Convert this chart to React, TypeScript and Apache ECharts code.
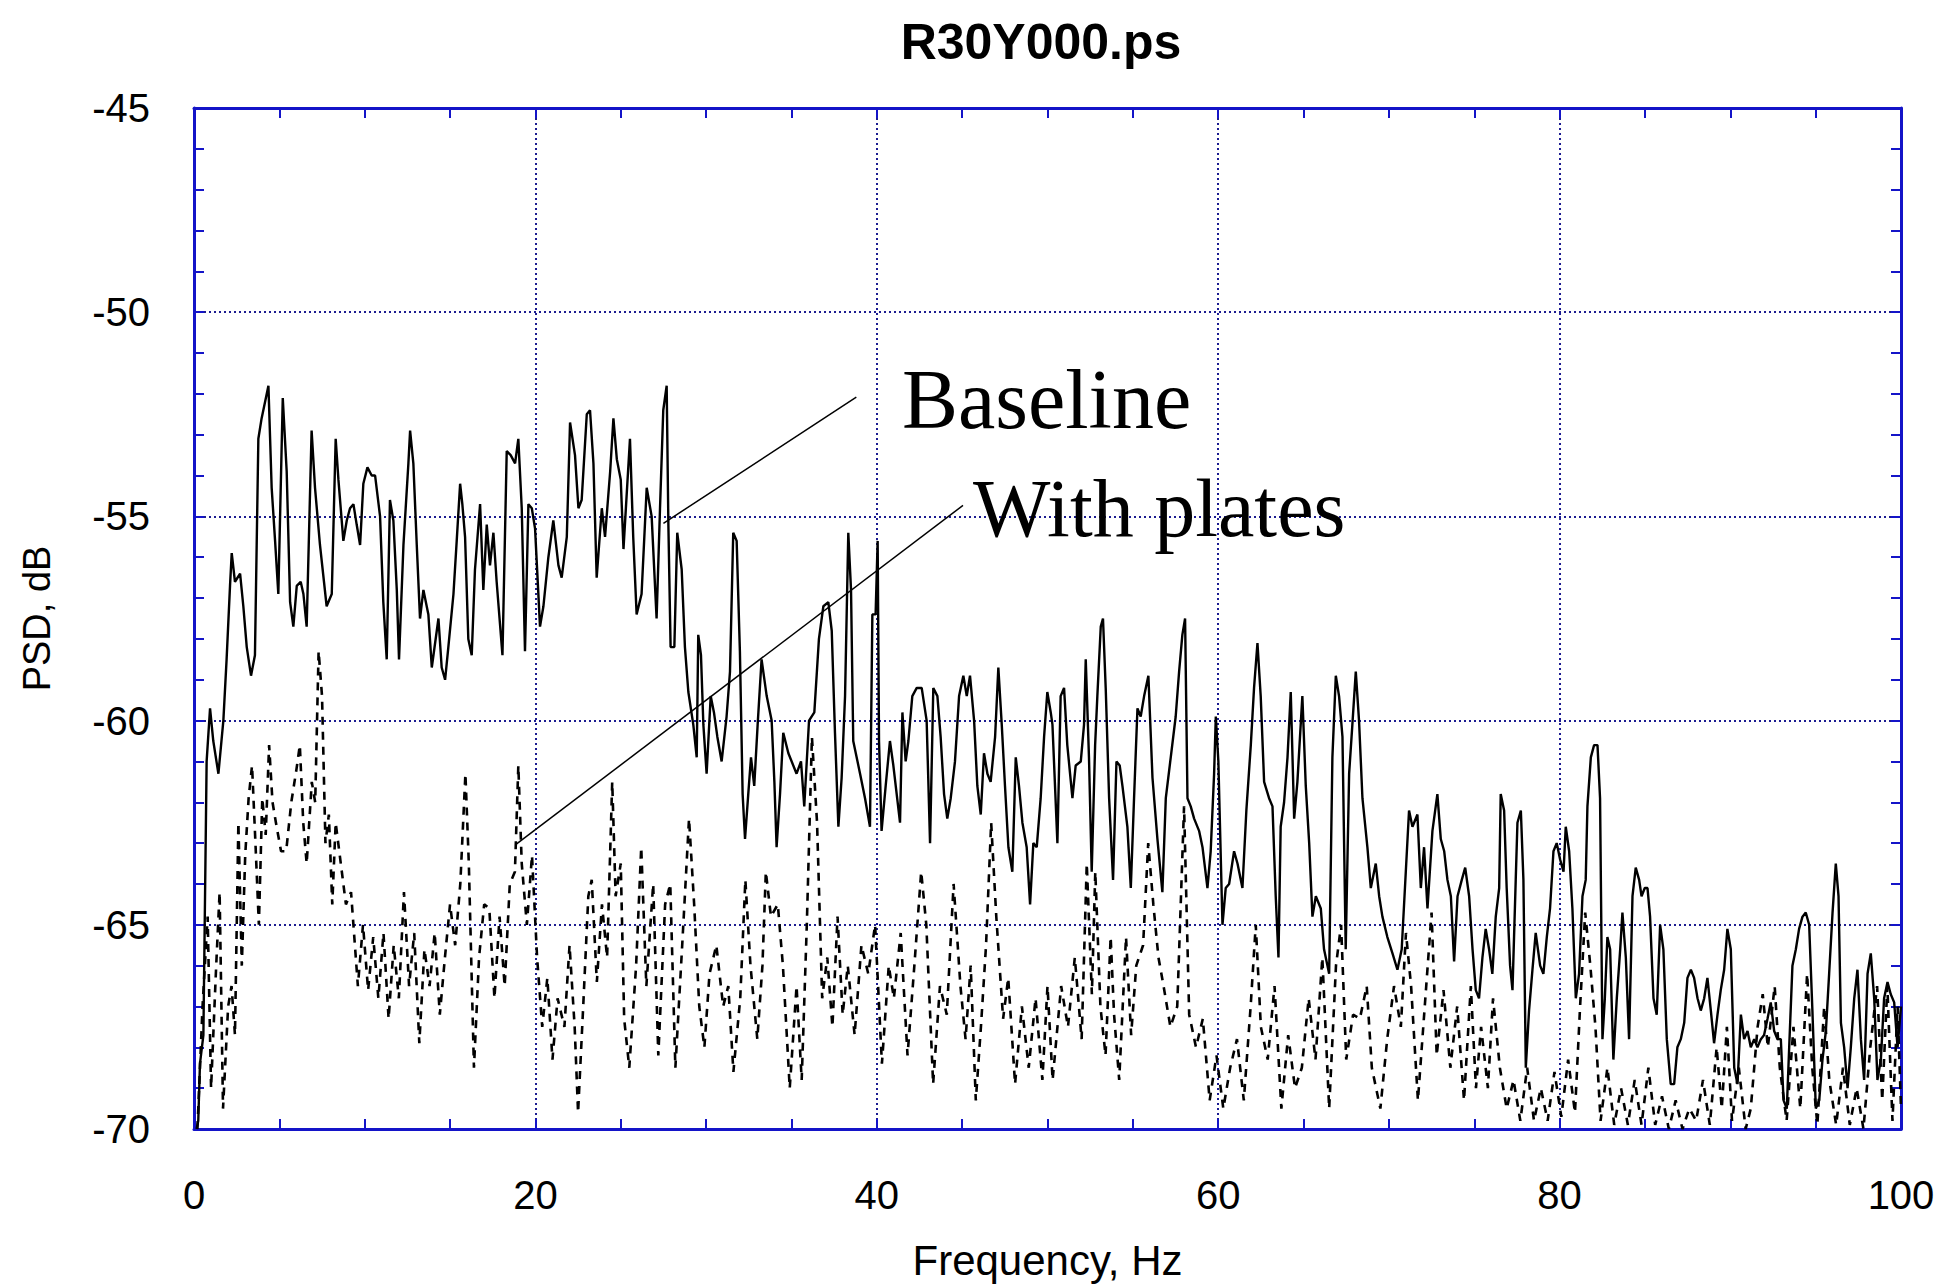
import React, { useEffect, useRef } from "react";
import * as echarts from "echarts";

const chartTitle = "R30Y000.ps";
const xAxisName = "Frequency, Hz";
const yAxisName = "PSD, dB";
const xMin = 0;
const xMax = 100;
const xStep = 20;
const yMin = -70;
const yMax = -45;
const yStep = 5;

// Baseline (solid) — [frequency Hz, PSD dB]
const baselineA: [number, number][] = [
  [0.15, -70], [0.25, -69.8], [0.35, -68.4], [0.55, -67.7], [0.74, -61.0], [0.94, -59.7], [1.13, -60.5], [1.43, -61.3],
  [1.72, -60.0], [1.91, -58.5], [2.11, -56.7], [2.21, -55.9], [2.40, -56.6], [2.70, -56.4], [2.89, -57.2], [3.09, -58.2],
  [3.34, -58.9], [3.57, -58.4], [3.77, -53.1], [3.96, -52.6], [4.36, -51.8], [4.55, -54.3], [4.75, -55.6], [4.94, -56.9],
  [5.20, -52.1], [5.43, -53.9], [5.63, -57.1], [5.82, -57.7], [6.02, -56.7], [6.25, -56.6], [6.41, -56.9], [6.60, -57.7],
  [6.89, -52.9], [7.09, -54.3], [7.38, -55.7], [7.77, -57.2], [8.07, -56.9], [8.30, -53.1], [8.46, -54.1], [8.75, -55.6],
  [8.95, -55.1], [9.14, -54.8], [9.34, -54.7], [9.53, -55.2], [9.73, -55.7], [9.92, -54.2], [10.16, -53.8], [10.41, -54.0],
  [10.61, -54.0], [10.90, -55.0], [11.09, -57.1], [11.29, -58.5], [11.48, -54.6], [11.68, -55.1], [11.88, -56.8], [12.01, -58.5],
  [12.27, -55.7], [12.56, -53.7], [12.66, -52.9], [12.85, -53.7], [13.05, -55.7], [13.24, -57.5], [13.44, -56.8], [13.73, -57.4],
  [13.93, -58.7], [14.32, -57.5], [14.51, -58.7], [14.71, -59.0], [14.90, -58.2], [15.20, -56.9], [15.39, -55.6], [15.59, -54.2],
  [15.72, -54.7], [15.88, -55.5], [16.07, -58.0], [16.27, -58.4], [16.46, -56.3], [16.76, -54.7], [16.95, -56.8], [17.15, -55.2],
  [17.34, -56.2], [17.54, -55.4], [17.73, -56.6], [18.07, -58.4], [18.32, -53.4], [18.55, -53.5], [18.81, -53.7], [19.00, -53.1],
  [19.20, -54.8], [19.39, -58.3], [19.59, -54.7], [19.79, -54.8], [19.98, -55.3], [20.27, -57.7], [20.47, -57.2], [20.76, -56.0],
  [21.05, -55.1], [21.35, -56.2], [21.54, -56.5], [21.84, -55.5], [22.03, -52.7], [22.32, -53.5], [22.52, -54.8], [22.71, -54.6],
  [23.01, -52.5], [23.20, -52.4], [23.40, -53.7], [23.59, -56.5], [23.89, -54.8], [24.08, -55.5], [24.38, -53.9], [24.57, -52.6],
  [24.77, -53.6], [25.00, -54.1], [25.16, -55.8],
];
const baselineB: [number, number][] = [
  [25.54, -53.1], [25.73, -55.5], [25.93, -57.4], [26.22, -56.9], [26.52, -54.3], [26.81, -55.0], [27.10, -57.5], [27.30, -54.8],
  [27.49, -52.4], [27.69, -51.8], [27.79, -55.2], [27.92, -58.2], [28.14, -58.2], [28.31, -55.4], [28.57, -56.3], [28.76, -58.2],
  [28.96, -59.3], [29.25, -60.1], [29.45, -60.9], [29.54, -57.9], [29.70, -58.4], [29.84, -60.1], [30.03, -61.3], [30.27, -59.4],
  [30.46, -59.8], [30.66, -60.4], [30.91, -61.0], [31.20, -59.9], [31.40, -58.8], [31.59, -55.4], [31.79, -55.6], [31.98, -58.3],
  [32.14, -61.8], [32.28, -62.9], [32.47, -61.8], [32.63, -60.9], [32.82, -61.6], [33.02, -60.1], [33.25, -58.5], [33.55, -59.4],
  [33.84, -60.0], [34.00, -61.5], [34.13, -63.1], [34.33, -61.8], [34.52, -60.3], [34.82, -60.8], [35.30, -61.3], [35.56, -61.0],
  [35.75, -62.1], [36.03, -60.0], [36.34, -59.8], [36.61, -58.0], [36.87, -57.2], [37.16, -57.1], [37.36, -57.8], [37.55, -60.3],
  [37.75, -62.6], [37.94, -61.4], [38.14, -59.4], [38.33, -55.4], [38.49, -56.8], [38.62, -60.5], [39.02, -61.3], [39.31, -61.9],
  [39.60, -62.6], [39.74, -57.4], [39.93, -57.4], [40.05, -55.6], [40.13, -60.5], [40.28, -62.7], [40.52, -61.6], [40.77, -60.5],
  [40.97, -61.1], [41.36, -62.5], [41.50, -59.8], [41.69, -61.0], [41.85, -60.5], [42.08, -59.4], [42.34, -59.2], [42.63, -59.2],
  [42.92, -60.0], [43.12, -63.0], [43.31, -59.2], [43.55, -59.4], [43.74, -60.4], [43.94, -61.8], [44.13, -62.4], [44.33, -61.9],
  [44.58, -61.0], [44.82, -59.4], [45.07, -58.9], [45.27, -59.4], [45.46, -58.9], [45.70, -60.0], [45.89, -61.6], [46.09, -62.3],
  [46.28, -60.8], [46.48, -61.3], [46.67, -61.5], [46.93, -60.4], [47.12, -58.7], [47.32, -60.1], [47.51, -61.6], [47.71, -63.1],
  [47.94, -63.7], [48.14, -60.9], [48.33, -61.6], [48.53, -62.5], [48.78, -63.1], [48.98, -64.5], [49.17, -63.0], [49.37, -63.1],
  [49.60, -61.9], [49.80, -60.4], [49.99, -59.3], [50.19, -59.8],
];
const baselineC: [number, number][] = [
  [50.29, -60.1], [50.58, -63.0], [50.77, -59.4], [50.97, -59.2], [51.16, -60.6], [51.46, -61.9], [51.65, -61.1], [51.95, -61.0],
  [52.14, -60.1], [52.24, -58.5], [52.43, -60.9], [52.59, -63.7], [52.79, -60.6], [52.92, -59.4], [53.12, -57.7], [53.25, -57.5],
  [53.41, -59.2], [53.61, -61.9], [53.84, -63.9], [54.04, -61.0], [54.23, -61.1], [54.39, -61.6], [54.68, -62.6], [54.88, -64.1],
  [55.07, -61.9], [55.27, -59.7], [55.46, -59.9], [55.66, -59.4], [55.91, -58.9], [56.15, -61.4], [56.44, -62.9], [56.73, -64.2],
  [56.93, -61.9], [57.22, -60.9], [57.51, -59.9], [57.71, -58.8], [57.90, -57.9], [58.06, -57.5], [58.20, -61.9], [58.39, -62.1],
  [58.59, -62.4], [58.88, -62.7], [59.08, -63.1], [59.37, -64.1], [59.56, -63.2], [59.76, -61.3], [59.86, -59.9], [60.01, -61.0],
  [60.25, -65.0], [60.44, -64.1], [60.64, -64.0], [60.93, -63.2], [61.13, -63.5], [61.42, -64.1], [61.65, -62.2], [61.91, -60.6],
  [62.10, -59.2], [62.30, -58.1], [62.49, -59.4], [62.69, -61.5], [62.98, -61.9], [63.18, -62.1], [63.37, -64.3], [63.53, -65.8],
  [63.66, -62.6], [63.86, -62.0], [64.06, -60.9], [64.25, -59.3], [64.45, -62.4], [64.64, -61.5], [64.93, -59.4], [65.13, -61.6],
  [65.33, -63.0], [65.52, -64.8], [65.72, -64.3], [66.01, -64.6], [66.20, -65.6], [66.50, -66.2], [66.69, -60.9], [66.89, -58.9],
  [67.08, -59.4], [67.28, -60.4], [67.47, -65.6], [67.67, -61.3], [67.86, -60.1], [68.06, -58.8], [68.25, -60.0], [68.45, -61.9],
  [68.74, -63.1], [68.94, -64.1], [69.23, -63.5], [69.43, -64.3], [69.62, -64.8], [69.91, -65.3], [70.21, -65.7], [70.50, -66.1],
  [70.75, -65.6], [70.99, -63.7], [71.18, -62.2], [71.38, -62.6], [71.67, -62.3], [71.87, -64.1], [72.06, -63.1], [72.26, -64.6],
  [72.55, -62.7], [72.84, -61.8], [73.04, -62.9], [73.24, -63.2], [73.43, -63.9], [73.63, -64.3], [73.82, -65.9], [74.02, -64.3],
  [74.27, -63.9], [74.47, -63.6], [74.70, -64.3], [74.90, -65.6], [75.09, -66.6],
];
const baselineD: [number, number][] = [
  [75.28, -66.8], [75.48, -65.8], [75.67, -65.1], [75.87, -65.6], [76.06, -66.2], [76.26, -64.8], [76.46, -64.1], [76.55, -61.8],
  [76.75, -62.2], [76.90, -64.1], [77.10, -66.0], [77.24, -66.6], [77.43, -63.9], [77.53, -62.5], [77.73, -62.2], [77.88, -63.9],
  [78.02, -68.5], [78.21, -67.1], [78.41, -66.1], [78.60, -65.2], [78.86, -66.0], [79.05, -66.2], [79.25, -65.3], [79.44, -64.6],
  [79.64, -63.2], [79.83, -63.0], [80.03, -63.4], [80.23, -63.7], [80.36, -62.6], [80.56, -63.2], [80.75, -64.6], [80.95, -66.8],
  [81.14, -66.2], [81.34, -64.3], [81.53, -63.9], [81.63, -62.1], [81.83, -60.9], [82.02, -60.6], [82.22, -60.6], [82.37, -61.9],
  [82.51, -67.8], [82.65, -66.8], [82.80, -65.3], [82.96, -65.6], [83.15, -68.3], [83.35, -66.8], [83.55, -65.6], [83.68, -64.7],
  [83.88, -65.8], [84.07, -67.8], [84.27, -64.3], [84.46, -63.6], [84.66, -63.9], [84.80, -64.3], [84.99, -64.1], [85.15, -64.1],
  [85.30, -64.8], [85.50, -66.8], [85.69, -67.2], [85.89, -65.0], [86.08, -65.6], [86.28, -67.8], [86.51, -68.9], [86.71, -68.9],
  [86.90, -68.0], [87.10, -67.8], [87.30, -67.4], [87.49, -66.3], [87.69, -66.1], [87.88, -66.3], [88.08, -66.8], [88.27, -67.1],
  [88.47, -66.8], [88.66, -66.3], [88.86, -67.1], [89.05, -67.9], [89.25, -67.2], [89.44, -66.6], [89.64, -66.1], [89.83, -65.1],
  [90.03, -65.6], [90.23, -68.5], [90.42, -68.9], [90.62, -67.2], [90.81, -67.8], [91.01, -67.6], [91.20, -68.0], [91.40, -67.8],
  [91.59, -68.0], [91.79, -67.8], [91.98, -67.7], [92.18, -67.3], [92.37, -66.9], [92.57, -67.6], [92.76, -67.8], [92.96, -67.8],
  [93.12, -69.3], [93.31, -69.5], [93.45, -68.0], [93.64, -66.0], [93.84, -65.6], [94.03, -65.1], [94.23, -64.8], [94.42, -64.7],
  [94.62, -65.0], [94.81, -67.1], [95.01, -69.5], [95.21, -69.3], [95.40, -68.3], [95.60, -67.6], [95.79, -66.2], [95.99, -64.7],
  [96.18, -63.5], [96.34, -64.3], [96.48, -67.4], [96.67, -68.0], [96.87, -69.0], [97.06, -68.0], [97.26, -66.8], [97.45, -66.1],
  [97.65, -67.8], [97.84, -68.8], [98.04, -66.2], [98.23, -65.7], [98.43, -66.8], [98.62, -68.8], [98.82, -68.3], [99.01, -66.8],
  [99.21, -66.4], [99.40, -66.7], [99.60, -66.9], [99.80, -68.0], [100.0, -67.0],
];

// With plates (dashed) — [frequency Hz, PSD dB]
const platesA: [number, number][] = [
  [0.2, -70], [0.5, -67], [0.8, -64.8], [1.0, -69], [1.3, -66], [1.5, -64.2], [1.7, -69.5], [2.0, -67], [2.2, -66.5],
  [2.4, -67.7], [2.6, -62.5], [2.8, -66], [3.0, -63.3], [3.2, -61.9], [3.4, -61.1], [3.6, -63], [3.8, -65], [4.0, -61.9],
  [4.2, -62.8], [4.4, -60.6], [4.6, -62], [4.8, -62.5], [5.1, -63.2], [5.4, -63.2], [5.7, -62], [6.0, -61.2], [6.2, -60.6],
  [6.4, -62.5], [6.6, -63.5], [6.9, -61.5], [7.1, -62], [7.3, -58.3], [7.5, -59.4], [7.7, -63], [7.9, -62.3], [8.1, -64.5],
  [8.3, -62.5], [8.6, -63.5], [8.9, -64.5], [9.2, -64.2], [9.6, -66.5], [9.9, -65], [10.2, -66.6], [10.5, -65.3],
  [10.8, -66.8], [11.1, -65.2], [11.4, -67.3], [11.7, -65.5], [12.0, -66.8], [12.3, -64.2], [12.6, -66.5], [12.9, -65.2],
  [13.2, -67.9], [13.5, -65.6], [13.8, -66.5], [14.1, -65.2], [14.4, -67.2], [14.7, -65.8], [15.0, -64.5], [15.3, -65.5],
  [15.6, -64], [15.9, -61.3], [16.1, -63.5], [16.4, -68.5], [16.7, -65.8], [17.0, -64.5], [17.3, -64.6], [17.6, -66.8],
  [17.9, -64.8], [18.2, -66.5], [18.5, -64], [18.8, -63.7], [19.0, -61.1], [19.2, -63.5], [19.5, -65], [19.8, -63.3],
  [20.1, -65.8], [20.4, -67.5], [20.7, -66.3], [21.0, -68.3], [21.3, -66.8], [21.7, -67.5], [22.0, -65.5], [22.3, -67.5],
  [22.5, -69.6], [22.8, -67], [23.1, -64.3], [23.3, -63.9], [23.6, -66.4], [23.9, -64.5], [24.2, -65.8], [24.5, -61.5],
  [24.7, -64.3], [25.0, -63.5], [25.2, -67.3],
];
const platesB: [number, number][] = [
  [25.5, -68.5], [25.9, -66], [26.2, -63.1], [26.5, -66.5], [26.9, -64], [27.2, -68.2], [27.6, -64.5], [27.9, -64],
  [28.2, -68.5], [28.6, -65.5], [29.0, -62.4], [29.3, -64.5], [29.6, -67], [29.9, -68], [30.2, -66.2], [30.6, -65.5],
  [31.0, -67], [31.3, -66.5], [31.6, -68.6], [32.0, -66.8], [32.3, -63.9], [32.6, -66], [33.0, -67.8], [33.3, -66],
  [33.5, -63.7], [33.8, -64.8], [34.2, -64.5], [34.5, -66], [34.9, -69], [35.3, -66.5], [35.6, -68.8], [35.9, -65],
  [36.2, -60.4], [36.5, -62.5], [36.8, -66.8], [37.1, -65.8], [37.4, -67.5], [37.7, -64.8], [38.0, -67.2], [38.3, -66],
  [38.7, -67.7], [39.1, -65.5], [39.5, -66.2], [39.9, -65], [40.3, -68.4], [40.7, -66], [41.0, -66.8], [41.4, -65.2],
  [41.8, -68.2], [42.2, -66], [42.6, -63.7], [42.9, -65], [43.3, -68.9], [43.7, -66.5], [44.1, -67.2], [44.5, -64],
  [44.9, -66.5], [45.2, -67.8], [45.5, -66], [45.8, -69.3], [46.1, -67.5], [46.4, -65.5], [46.7, -62.5], [47.0, -64.8],
  [47.4, -67.3], [47.7, -66.3], [48.1, -68.9], [48.5, -67], [48.9, -68.5], [49.3, -66.8], [49.7, -68.8], [50.0, -66.5],
];
const platesC: [number, number][] = [
  [50.3, -68.8], [50.8, -66.5], [51.2, -67.5], [51.6, -65.8], [52.0, -67.8], [52.3, -63.5], [52.6, -66.7], [52.8, -63.7],
  [53.1, -67], [53.4, -68.2], [53.7, -65.3], [53.9, -67.2], [54.2, -68.8], [54.6, -65.3], [54.9, -67.7], [55.2, -66],
  [55.6, -65.5], [55.9, -63], [56.2, -64.5], [56.5, -65.8], [56.8, -66.5], [57.2, -67.5], [57.6, -67], [58.0, -62.1],
  [58.3, -67.2], [58.7, -68], [59.1, -67.3], [59.5, -69.3], [59.9, -68.2], [60.3, -69.5], [60.7, -68.5], [61.1, -67.8],
  [61.5, -69.3], [61.9, -67], [62.2, -65], [62.5, -67.5], [62.9, -68.3], [63.3, -66.5], [63.7, -69.5], [64.1, -67.7],
  [64.5, -69], [64.9, -68.5], [65.3, -66.8], [65.7, -68.3], [66.1, -65.8], [66.5, -69.5], [66.9, -66], [67.2, -65],
  [67.5, -68.3], [67.9, -67.2], [68.3, -67.3], [68.7, -66.5], [69.0, -68.5], [69.5, -69.5], [69.9, -67.8], [70.3, -66.5],
  [70.7, -67.5], [71.0, -65.2], [71.3, -66.5], [71.7, -69.3], [72.1, -67], [72.5, -64.7], [72.8, -68.2], [73.2, -66.6],
  [73.6, -68.5], [74.0, -67], [74.4, -69.3], [74.8, -66.5], [75.1, -69],
];
const platesD: [number, number][] = [
  [75.4, -67.5], [75.8, -69], [76.1, -66.8], [76.5, -68.5], [76.9, -69.5], [77.3, -68.8], [77.7, -69.8], [78.1, -68.5],
  [78.5, -69.8], [78.9, -69], [79.3, -69.8], [79.7, -68.6], [80.1, -69.7], [80.5, -68.3], [80.9, -69.6], [81.2, -67],
  [81.5, -64.7], [81.8, -66], [82.1, -67.5], [82.4, -69.8], [82.8, -68.5], [83.2, -69.9], [83.6, -69], [84.0, -69.9],
  [84.4, -68.8], [84.8, -69.9], [85.2, -68.5], [85.6, -69.9], [86.0, -69.2], [86.4, -70], [86.8, -69.3], [87.2, -70],
  [87.6, -69.5], [88.0, -69.8], [88.4, -68.8], [88.8, -69.9], [89.2, -68], [89.5, -69.5], [89.8, -67.5], [90.1, -69.8],
  [90.5, -68.5], [90.9, -70], [91.2, -69.5], [91.6, -67.5], [91.9, -66.7], [92.2, -68], [92.6, -66.5], [92.9, -68.5],
  [93.3, -69.8], [93.7, -67.5], [94.1, -69.5], [94.5, -66.2], [94.8, -68.5], [95.1, -69.9], [95.5, -67], [95.8, -68.8],
  [96.2, -69.9], [96.6, -68.5], [97.0, -69.9], [97.4, -69], [97.8, -70], [98.2, -68], [98.6, -66.5], [98.9, -69.3],
  [99.2, -66.5], [99.5, -69.8], [99.8, -67], [100.0, -69.5],
];

// Annotation leader lines in data coordinates: [[x1, y1], [x2, y2]]
const leaderBaseline: [number, number][] = [[27.5, -55.17], [38.8, -52.08]];
const leaderPlates: [number, number][] = [[18.9, -63.02], [45.05, -54.73]];
const annotationTexts = ["Baseline", "With plates"];

const BLUE = "#1414c8";
const GRID_BLUE = "#1c1c90";
const SANS = "'Liberation Sans', Arial, Helvetica, sans-serif";
const SERIF = "'Liberation Serif', 'Times New Roman', serif";

export default function App() {
  const ref = useRef<HTMLDivElement>(null);

  useEffect(() => {
    document.body.style.margin = "0";
    if (!ref.current) return;
    const chart = echarts.init(ref.current, undefined, { renderer: "svg" });

    const baseline = [...baselineA, ...baselineB, ...baselineC, ...baselineD];
    const plates = [...platesA, ...platesB, ...platesC, ...platesD];

    const tickStyle = { color: BLUE, width: 2 };

    const xCommon = {
      type: "value" as const,
      min: xMin,
      max: xMax,
      interval: xStep,
      axisLine: { show: true, onZero: false, lineStyle: { color: BLUE, width: 3 } },
      axisTick: { show: true, inside: true, length: 10, lineStyle: tickStyle },
      minorTick: { show: true, splitNumber: 4, length: 10, lineStyle: tickStyle },
    };
    const yCommon = {
      type: "value" as const,
      min: yMin,
      max: yMax,
      interval: yStep,
      axisLine: { show: true, onZero: false, lineStyle: { color: BLUE, width: 3 } },
      axisTick: { show: true, inside: true, length: 10, lineStyle: tickStyle },
      minorTick: { show: true, splitNumber: 5, length: 10, lineStyle: tickStyle },
    };

    chart.setOption({
      animation: false,
      backgroundColor: "#ffffff",
      title: {
        text: chartTitle,
        left: 1036,
        top: 12,
        textAlign: "center",
        textStyle: { fontSize: 50, fontWeight: "bold", fontFamily: SANS, color: "#000" },
      },
      grid: { left: 194, right: 38, top: 108, bottom: 158, containLabel: false },
      xAxis: [
        {
          ...xCommon,
          position: "bottom",
          name: xAxisName,
          nameLocation: "middle",
          nameGap: 110,
          nameTextStyle: { fontSize: 42, fontFamily: SANS, color: "#000" },
          axisLabel: { show: true, margin: 46, fontSize: 40, fontFamily: SANS, color: "#000" },
          splitLine: { show: true, lineStyle: { color: GRID_BLUE, width: 2, type: [2, 3] } },
        },
        {
          ...xCommon,
          position: "top",
          axisLabel: { show: false },
          splitLine: { show: false },
        },
      ],
      yAxis: [
        {
          ...yCommon,
          position: "left",
          name: yAxisName,
          nameLocation: "middle",
          nameRotate: 90,
          nameGap: 138,
          nameTextStyle: { fontSize: 38, fontFamily: SANS, color: "#000" },
          axisLabel: { show: true, margin: 44, fontSize: 40, fontFamily: SANS, color: "#000" },
          splitLine: { show: true, lineStyle: { color: GRID_BLUE, width: 2, type: [2, 3] } },
        },
        {
          ...yCommon,
          position: "right",
          axisLabel: { show: false },
          splitLine: { show: false },
        },
      ],
      series: [
        {
          name: annotationTexts[0],
          type: "line",
          xAxisIndex: 0,
          yAxisIndex: 0,
          data: baseline,
          showSymbol: false,
          symbol: "none",
          clip: true,
          lineStyle: { color: "#000", width: 2.4 },
          markLine: {
            silent: true,
            symbol: ["none", "none"],
            label: { show: false },
            lineStyle: { color: "#000", width: 1.5, type: "solid" },
            data: [
              [{ coord: leaderBaseline[0] }, { coord: leaderBaseline[1] }],
              [{ coord: leaderPlates[0] }, { coord: leaderPlates[1] }],
            ],
          },
        },
        {
          name: annotationTexts[1],
          type: "line",
          xAxisIndex: 0,
          yAxisIndex: 0,
          data: plates,
          showSymbol: false,
          symbol: "none",
          clip: true,
          lineStyle: { color: "#000", width: 2.6, type: [8, 7] },
        },
      ],
      graphic: [
        {
          type: "text",
          x: 902,
          y: 399,
          z: 100,
          style: {
            text: annotationTexts[0],
            fontSize: 84,
            fontFamily: SERIF,
            fill: "#000",
            align: "left",
            verticalAlign: "middle",
          },
        },
        {
          type: "text",
          x: 973,
          y: 508,
          z: 100,
          style: {
            text: annotationTexts[1],
            fontSize: 82,
            fontFamily: SERIF,
            fill: "#000",
            align: "left",
            verticalAlign: "middle",
          },
        },
      ],
    });

    return () => {
      chart.dispose();
    };
  }, []);

  return <div ref={ref} style={{ width: 1939, height: 1287 }} />;
}
